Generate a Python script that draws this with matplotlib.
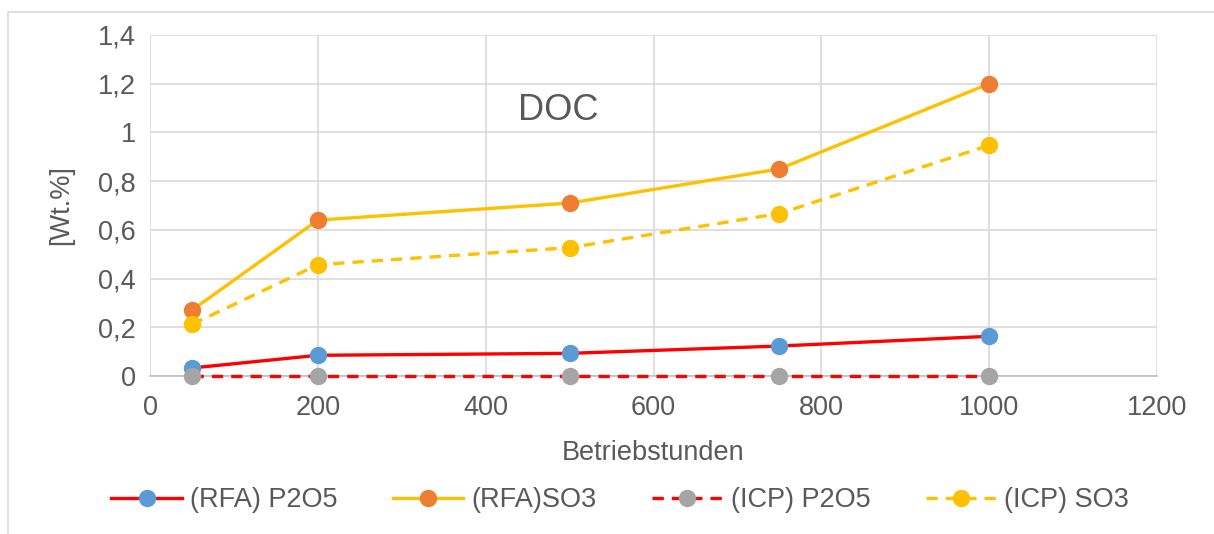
import matplotlib.pyplot as plt
import matplotlib.ticker as mticker
from matplotlib.patches import Rectangle

# Data
hours = [50, 200, 500, 750, 1000]
rfa_p2o5 = [0.033, 0.085, 0.093, 0.123, 0.163]
rfa_so3 = [0.27, 0.64, 0.71, 0.85, 1.2]
icp_p2o5 = [0, 0, 0, 0, 0]
icp_so3 = [0.212, 0.457, 0.527, 0.667, 0.947]

plt.rcParams['font.family'] = ['Liberation Sans', 'DejaVu Sans']
txt = "#595959"
fs = 19.5

fig = plt.figure(figsize=(12.14, 5.34), dpi=100)
ax = fig.add_axes([150 / 1214, 1 - 376 / 534, 1007 / 1214, 341 / 534])

# outer chart border
fig.patches.append(Rectangle((8 / 1214, -0.01), 1.2, 1 - 12 / 534 + 0.01,
                             transform=fig.transFigure, fill=False,
                             edgecolor="#d9d9d9", lw=1.2))

lw, ms = 2.4, 11.5
dash = (0, (3.4, 2.4))
ax.plot(hours, rfa_p2o5, color="#ff0000", lw=lw, marker="o", ms=ms,
        mfc="#5b9bd5", mec="#5b9bd5", label="(RFA) P2O5", zorder=4, clip_on=False)
ax.plot(hours, rfa_so3, color="#ffc000", lw=lw, marker="o", ms=ms,
        mfc="#ed7d31", mec="#ed7d31", label="(RFA)SO3", zorder=4, clip_on=False)
ax.plot(hours, icp_p2o5, color="#ff0000", lw=lw, ls=dash, marker="o", ms=ms,
        mfc="#a5a5a5", mec="#a5a5a5", label="(ICP) P2O5", zorder=4, clip_on=False)
ax.plot(hours, icp_so3, color="#ffc000", lw=lw, ls=dash, marker="o", ms=ms,
        mfc="#ffc000", mec="#ffc000", label="(ICP) SO3", zorder=4, clip_on=False)

ax.set_xlim(0, 1200)
ax.set_ylim(0, 1.4)
ax.set_xticks(range(0, 1201, 200))
ax.set_yticks([0, 0.2, 0.4, 0.6, 0.8, 1.0, 1.2, 1.4])
ax.yaxis.set_major_formatter(mticker.FuncFormatter(
    lambda v, p: ("%g" % round(v, 1)).replace(".", ",")))

ax.grid(True, color="#d9d9d9", lw=1.2)
ax.set_axisbelow(True)
for s in ["top", "right", "left"]:
    ax.spines[s].set_visible(False)
ax.spines["bottom"].set_color("#bfbfbf")
ax.spines["bottom"].set_linewidth(1.2)
ax.tick_params(length=0, labelsize=fs, labelcolor=txt, pad=10)
ax.tick_params(axis="x", pad=14)

ax.set_xlabel("Betriebstunden", fontsize=fs, color=txt, labelpad=13)
ax.set_ylabel("[Wt.%]", fontsize=fs, color=txt, labelpad=17)
ax.text(486, 1.09, "DOC", fontsize=26, color=txt, ha="center", va="center")

fig.legend(loc="center", bbox_to_anchor=(0.511, 1 - 500 / 534), ncol=4,
           frameon=False, fontsize=fs, labelcolor=txt, handlelength=2.6,
           handletextpad=0.3, columnspacing=2.05)

fig.savefig("out.png", dpi=100)
